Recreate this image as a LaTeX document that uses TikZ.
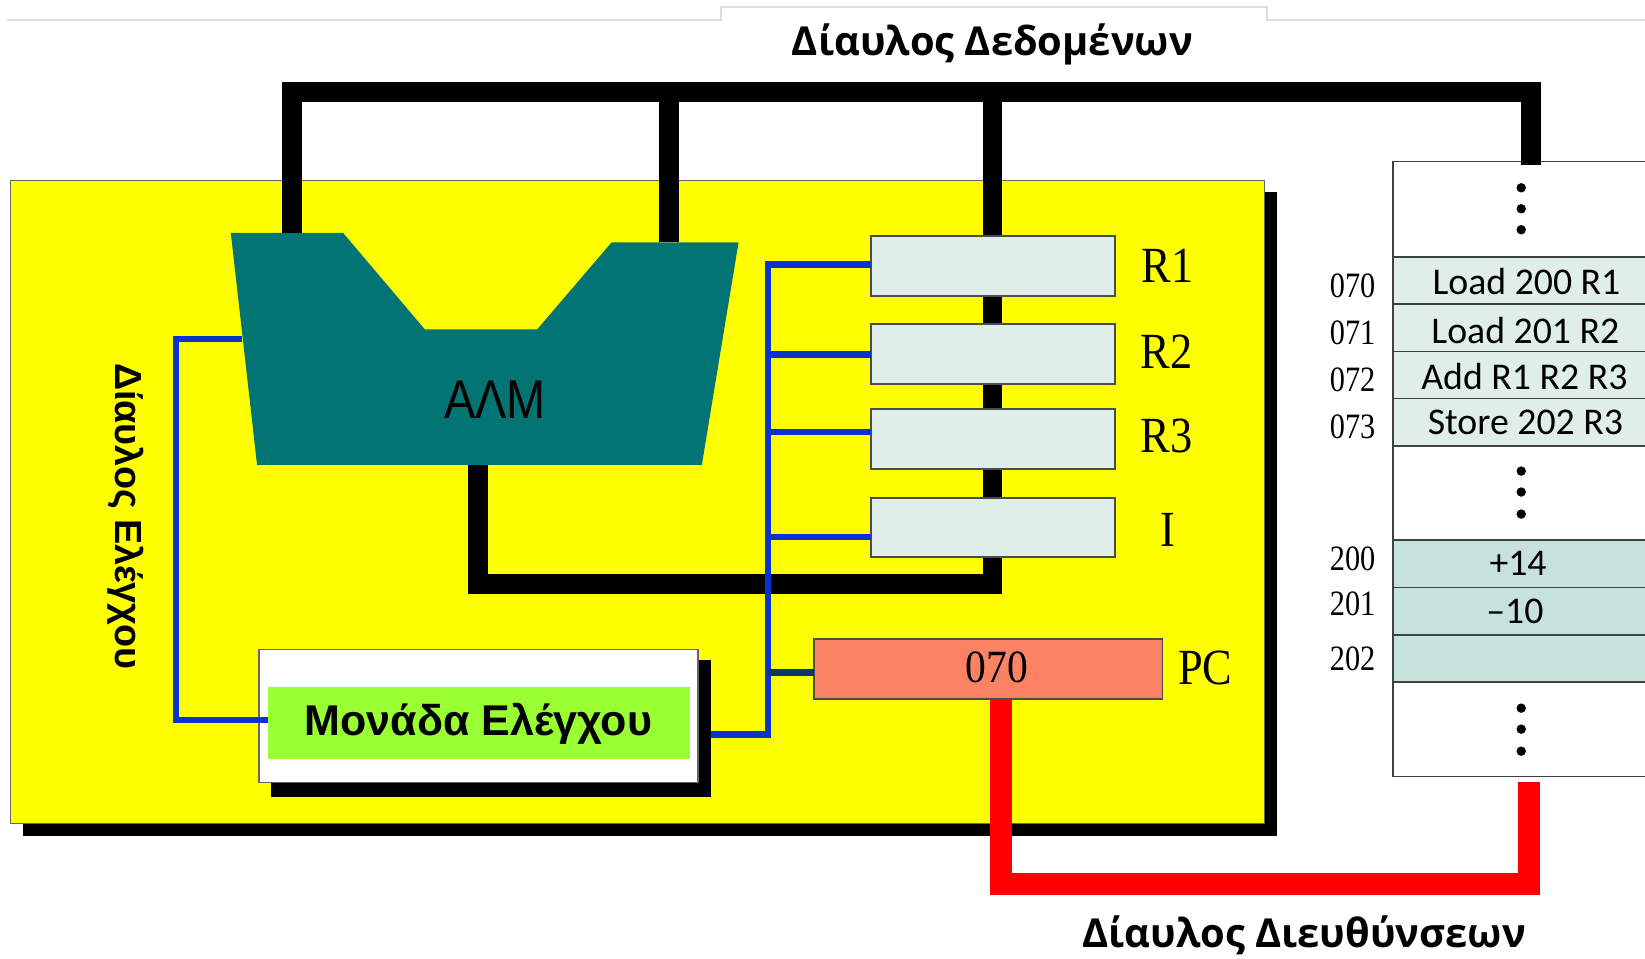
\documentclass[tikz,border=0pt]{standalone}
\usepackage{fontspec}
\setmainfont{Liberation Serif}
\newfontfamily\busfont{Open Sans}
\newfontfamily\arialfont{Liberation Sans}
\newfontfamily\memfont{Carlito}
\usetikzlibrary{fit}
\definecolor{cpuyellow}{RGB}{255,255,0}
\definecolor{almteal}{RGB}{3,116,116}
\definecolor{regfill}{RGB}{224,238,234}
\definecolor{memfillB}{RGB}{199,226,220}
\definecolor{pcfill}{RGB}{252,130,100}
\definecolor{cugreen}{RGB}{153,255,51}
\definecolor{cblue}{RGB}{10,50,210}
\definecolor{cnavy}{RGB}{12,55,105}
\definecolor{framegray}{RGB}{221,221,221}
\begin{document}
\begin{tikzpicture}[x=0.5pt,y=-0.5pt,
  box/.style={inner sep=0pt,outer sep=0pt},
  regbox/.style={box,fill=regfill,draw=black!70,line width=0.8pt},
  memrow/.style={box,draw=black!75,line width=0.8pt},
  dbus/.style={line width=9.5pt,black,line join=miter},
  abus/.style={line width=10.5pt,red,line join=miter},
  cbus/.style={line width=3pt,cblue,line join=miter},
  buslabel/.style={font=\busfont\bfseries\fontsize{19}{19}\selectfont},
  reglabel/.style={font=\fontsize{23}{23}\selectfont,yscale=1.05,xscale=0.92},
  memtext/.style={font=\memfont\fontsize{18}{18}\selectfont},
  addrlabel/.style={font=\fontsize{17}{17}\selectfont,anchor=east,xscale=0.85},
  memdot/.style={fill=black,circle,inner sep=0pt,minimum size=4.5pt}]
\useasboundingbox (0,0) rectangle (1568,914);
\fill[white] (0,0) rectangle (1568,914);
% faint frame line at top
\draw[framegray,line width=1pt] (7,19) -- (687,19) -- (687,7) -- (1208,7) -- (1208,19) -- (1568,19);

% CPU box with shadow
\fill[black] (22,183) rectangle (1217,797);
\node[box,fill=cpuyellow,draw=black!60,line width=0.5pt,fit={(10,172) (1205,785)}] (cpu) {};

% memory
\node[box,fill=white,draw=black!75,line width=0.8pt,fit={(1328,154) (1600,740)}] (mem) {};
\node[memrow,fill=regfill,fit={(1328,245) (1600,290)}] (m070) {};
\node[memrow,fill=regfill,fit={(1328,290) (1600,335)}] (m071) {};
\node[memrow,fill=regfill,fit={(1328,335) (1600,380)}] (m072) {};
\node[memrow,fill=regfill,fit={(1328,380) (1600,425)}] (m073) {};
\node[memrow,fill=memfillB,fit={(1328,515) (1600,560)}] (m200) {};
\node[memrow,fill=memfillB,fit={(1328,560) (1600,605)}] (m201) {};
\node[memrow,fill=memfillB,fit={(1328,605) (1600,650)}] (m202) {};
\node[memtext] (t070) at (1455,268) {Load 200 R1};
\node[memtext] (t071) at (1454,315) {Load 201 R2};
\node[memtext] (t072) at (1453,359) {Add R1 R2 R3};
\node[memtext] (t073) at (1454,403) {Store 202 R3};
\node[memtext] (t200) at (1447,537) {+14};
\node[memtext] (t201) at (1444,583) {–10};
\node[addrlabel] (a070) at (1317,272) {070};
\node[addrlabel] (a071) at (1317,317) {071};
\node[addrlabel] (a072) at (1317,362) {072};
\node[addrlabel] (a073) at (1317,407) {073};
\node[addrlabel] (a200) at (1317,533) {200};
\node[addrlabel] (a201) at (1317,576) {201};
\node[addrlabel] (a202) at (1317,628) {202};
\foreach \yy [count=\k] in {179,199,219,449,469,490,675,695,716}
  \node[memdot] (dot\k) at (1450,\yy) {};

% ALU shape
\fill[almteal] (220,222) -- (327,222) -- (405,314) -- (512,314) -- (583,231) -- (704,231) -- (669,443) -- (245,443) -- cycle;
\coordinate (almInA) at (278,222);
\coordinate (almInB) at (638,231);
\coordinate (almOut) at (456,443);
\coordinate (almCtl) at (231,323);
\coordinate (memTop) at (1459,157);
\coordinate (memBot) at (1457,745);

% data bus
\draw[dbus] (almInA) -- (278,88) -- (1459,88) -- (memTop);
\draw[dbus] (almInB) -- (638,88);
\draw[dbus] (almOut) -- (456,557) -- (946,557) -- (946,88);
\node[font=\arialfont\fontsize{26}{26}\selectfont,xscale=0.86] (alm) at (472,381) {ΑΛΜ};

% registers
\node[regbox,fit={(830,225) (1063,282)}] (r1) {};
\node[regbox,fit={(830,309) (1063,366)}] (r2) {};
\node[regbox,fit={(830,390) (1063,447)}] (r3) {};
\node[regbox,fit={(830,475) (1063,531)}] (ir) {};
\node[box,fill=pcfill,draw=black!70,line width=0.8pt,fit={(776,609) (1108,666)}] (pc) {};
\node[font=\fontsize{22}{22}\selectfont,xscale=0.9] (pcval) at (950,636) {070};
\node[reglabel] (lr1) at (1113,253) {R1};
\node[reglabel] (lr2) at (1112,335) {R2};
\node[reglabel] (lr3) at (1112,416) {R3};
\node[reglabel] (lir) at (1113,505) {I};
\node[reglabel] (lpc) at (1149,637) {PC};

% control bus (right part)
\coordinate (cuOut) at (665,700);
\coordinate (cbBot) at (732,700);
\coordinate (cbTop) at (732,252);
\coordinate (b2) at (732,338);
\coordinate (b3) at (732,412);
\coordinate (b4) at (732,512);
\coordinate (b5) at (732,641);
\draw[cbus] (cuOut) -- (cbBot) -- (cbTop) -- (cbTop -| r1.west);
\draw[cbus] (b2) -- (b2 -| r2.west);
\draw[cbus] (b3) -- (b3 -| r3.west);
\draw[cbus] (b4) -- (b4 -| ir.west);
\draw[cbus,cnavy] (b5) -- (b5 -| pc.west);

% control unit
\fill[black] (258,629) rectangle (678,760);
\node[box,fill=white,draw=black!60,line width=0.8pt,fit={(247,619) (665,746)}] (cu) {};
\node[box,fill=cugreen,fit={(255,655) (658,723)}] (cug) {};
\node[font=\arialfont\bfseries\fontsize{20.5}{20.5}\selectfont] (cutext) at (456,690) {Μονάδα Ελέγχου};

% control bus (left part)
\coordinate (clTop) at (168,323);
\coordinate (clBot) at (168,686);
\draw[cbus] (almCtl) -- (clTop) -- (clBot) -- (clBot -| cug.west);
\node[rotate=-90,font=\arialfont\bfseries\fontsize{18}{18}\selectfont] (cblabel) at (120,492) {Δίαυλος Ελέγχου};

% address bus
\coordinate (pcOut) at (954,666);
\draw[abus] (pcOut) -- (954,843) -- (1457,843) -- (memBot);

% bus labels
\node[buslabel] (dblabel) at (946,42) {Δίαυλος Δεδομένων};
\node[buslabel] (ablabel) at (1243,892) {Δίαυλος Διευθύνσεων};
\end{tikzpicture}
\end{document}
